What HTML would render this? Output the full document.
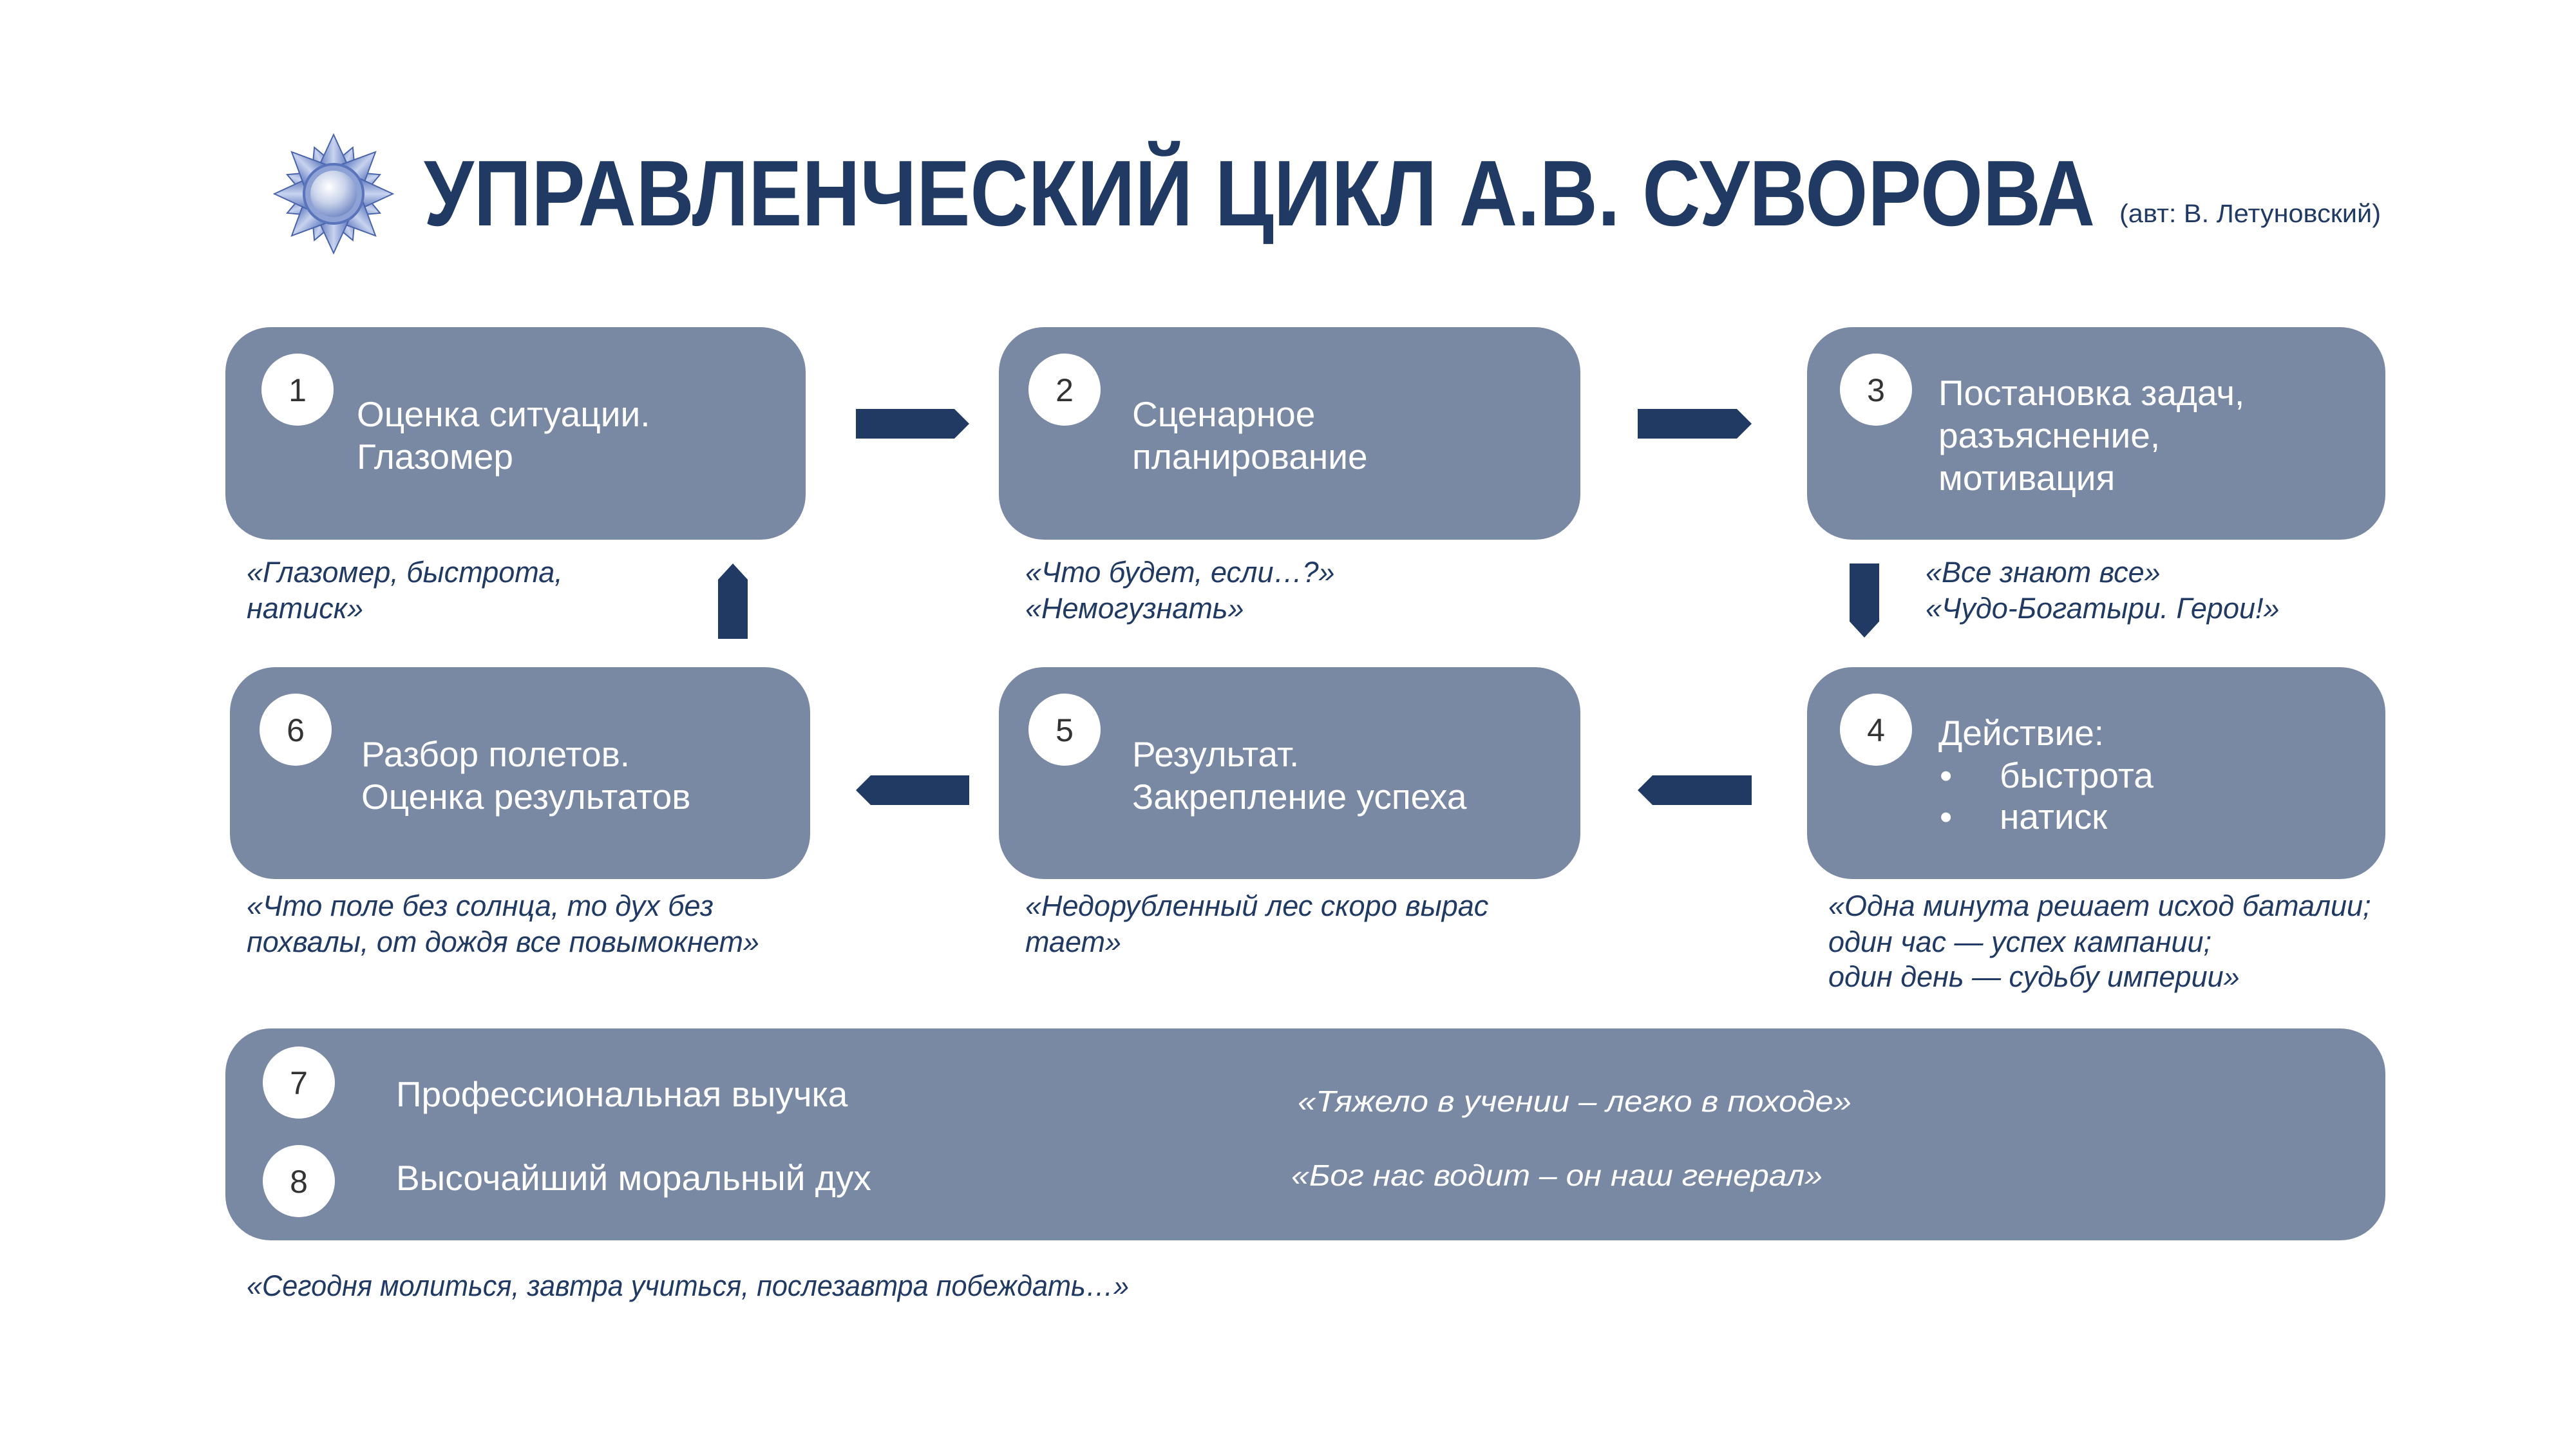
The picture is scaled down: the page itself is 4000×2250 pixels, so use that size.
<!DOCTYPE html>
<html><head><meta charset="utf-8"><style>html,body{margin:0;padding:0;background:#fff}svg{display:block}</style></head>
<body>
<svg width="4000" height="2250" viewBox="0 0 4000 2250" xmlns="http://www.w3.org/2000/svg" font-family="'Liberation Sans', sans-serif">
<defs>
<radialGradient id="sph" cx="0.4" cy="0.35" r="0.7"><stop offset="0" stop-color="#ffffff"/><stop offset="0.5" stop-color="#c9d3ea"/><stop offset="1" stop-color="#6f86c4"/></radialGradient>
<linearGradient id="ray" x1="0" y1="0" x2="1" y2="0"><stop offset="0" stop-color="#5d78c0"/><stop offset="0.5" stop-color="#c8d3ef"/><stop offset="1" stop-color="#5a74bb"/></linearGradient>
<polygon id="rL" points="0,-92 24,-40 0,-30 -24,-40" fill="url(#ray)" stroke="#4a64aa" stroke-width="2"/>
<polygon id="rS" points="0,-78 20,-40 0,-30 -20,-40" fill="url(#ray)" stroke="#4a64aa" stroke-width="2"/>
</defs>
<g transform="translate(518,301)">
<use href="#rS" transform="rotate(22.5)"/><use href="#rS" transform="rotate(67.5)"/><use href="#rS" transform="rotate(112.5)"/><use href="#rS" transform="rotate(157.5)"/>
<use href="#rS" transform="rotate(202.5)"/><use href="#rS" transform="rotate(247.5)"/><use href="#rS" transform="rotate(292.5)"/><use href="#rS" transform="rotate(337.5)"/>
<use href="#rL"/><use href="#rL" transform="rotate(45)"/><use href="#rL" transform="rotate(90)"/><use href="#rL" transform="rotate(135)"/>
<use href="#rL" transform="rotate(180)"/><use href="#rL" transform="rotate(225)"/><use href="#rL" transform="rotate(270)"/><use href="#rL" transform="rotate(315)"/>
<circle r="46" fill="#8ea2d6" stroke="#5a74bb" stroke-width="4"/>
<circle r="36" fill="url(#sph)"/>
</g>
<text x="658" y="350" font-size="145" font-weight="bold" fill="#213a63" textLength="2595" lengthAdjust="spacingAndGlyphs">УПРАВЛЕНЧЕСКИЙ ЦИКЛ А.В. СУВОРОВА</text>
<text x="3291" y="345" font-size="40" fill="#213a63" textLength="406" lengthAdjust="spacingAndGlyphs">(авт: В. Летуновский)</text>

<g fill="#7a89a3">
<rect x="350" y="508" width="901" height="330" rx="70"/>
<rect x="1551" y="508" width="903" height="330" rx="70"/>
<rect x="2806" y="508" width="898" height="330" rx="70"/>
<rect x="357" y="1036" width="901" height="329" rx="70"/>
<rect x="1551" y="1036" width="903" height="329" rx="70"/>
<rect x="2806" y="1036" width="898" height="329" rx="70"/>
<rect x="350" y="1597" width="3354" height="329" rx="70"/>
</g>
<g fill="#213a63">
<polygon points="1329,635 1482,635 1505,658 1482,681 1329,681"/>
<polygon points="2543,635 2697,635 2720,658 2697,681 2543,681"/>
<polygon points="1505,1204 1352,1204 1329,1227 1352,1250 1505,1250"/>
<polygon points="2720,1204 2566,1204 2543,1227 2566,1250 2720,1250"/>
<polygon points="2872,875 2918,875 2918,965 2895,990 2872,965"/>
<polygon points="1115,992 1161,992 1161,900 1138,875 1115,900"/>
</g>
<g fill="#fff">
<circle cx="462" cy="605" r="56"/><circle cx="1653" cy="605" r="56"/><circle cx="2913" cy="605" r="56"/>
<circle cx="459" cy="1133" r="56"/><circle cx="1653" cy="1133" r="56"/><circle cx="2913" cy="1133" r="56"/>
<circle cx="464" cy="1681" r="56"/><circle cx="464" cy="1834" r="56"/>
</g>
<g font-size="50" fill="#333" text-anchor="middle">
<text x="462" y="623">1</text><text x="1653" y="623">2</text><text x="2913" y="623">3</text>
<text x="459" y="1151">6</text><text x="1653" y="1151">5</text><text x="2913" y="1151">4</text>
<text x="464" y="1699">7</text><text x="464" y="1852">8</text>
</g>
<g font-size="55" fill="#fff">
<text x="554" y="662">Оценка ситуации.</text><text x="554" y="728">Глазомер</text>
<text x="1758" y="662">Сценарное</text><text x="1758" y="728">планирование</text>
<text x="3010" y="629">Постановка задач,</text><text x="3010" y="695">разъяснение,</text><text x="3010" y="761">мотивация</text>
<text x="3010" y="1157">Действие:</text>
<text x="3012" y="1223">•</text><text x="3105" y="1223">быстрота</text>
<text x="3012" y="1287">•</text><text x="3105" y="1287">натиск</text>
<text x="1758" y="1190">Результат.</text><text x="1758" y="1256">Закрепление успеха</text>
<text x="561" y="1190">Разбор полетов.</text><text x="561" y="1256">Оценка результатов</text>
<text x="615" y="1718">Профессиональная выучка</text>
<text x="615" y="1848">Высочайший моральный дух</text>
</g>
<g font-size="46" font-style="italic" fill="#fff">
<text x="2015" y="1726" textLength="860" lengthAdjust="spacingAndGlyphs">«Тяжело в учении – легко в походе»</text>
<text x="2005" y="1841" textLength="825" lengthAdjust="spacingAndGlyphs">«Бог нас водит – он наш генерал»</text>
</g>
<g font-size="45" font-style="italic" fill="#213a63">
<text x="383" y="904">«Глазомер, быстрота,</text><text x="383" y="960">натиск»</text>
<text x="1592" y="904">«Что будет, если…?»</text><text x="1592" y="960">«Немогузнать»</text>
<text x="2990" y="904">«Все знают все»</text><text x="2990" y="960">«Чудо-Богатыри. Герои!»</text>
<text x="383" y="1422">«Что поле без солнца, то дух без</text><text x="383" y="1478">похвалы, от дождя все повымокнет»</text>
<text x="1592" y="1422">«Недорубленный лес скоро вырас</text><text x="1592" y="1478">тает»</text>
<text x="2839" y="1422">«Одна минута решает исход баталии;</text><text x="2839" y="1478">один час — успех кампании;</text><text x="2839" y="1532">один день — судьбу империи»</text>
<text x="383" y="2012" textLength="1370" lengthAdjust="spacingAndGlyphs">«Сегодня молиться, завтра учиться, послезавтра побеждать…»</text>
</g>
</svg>
</body></html>
